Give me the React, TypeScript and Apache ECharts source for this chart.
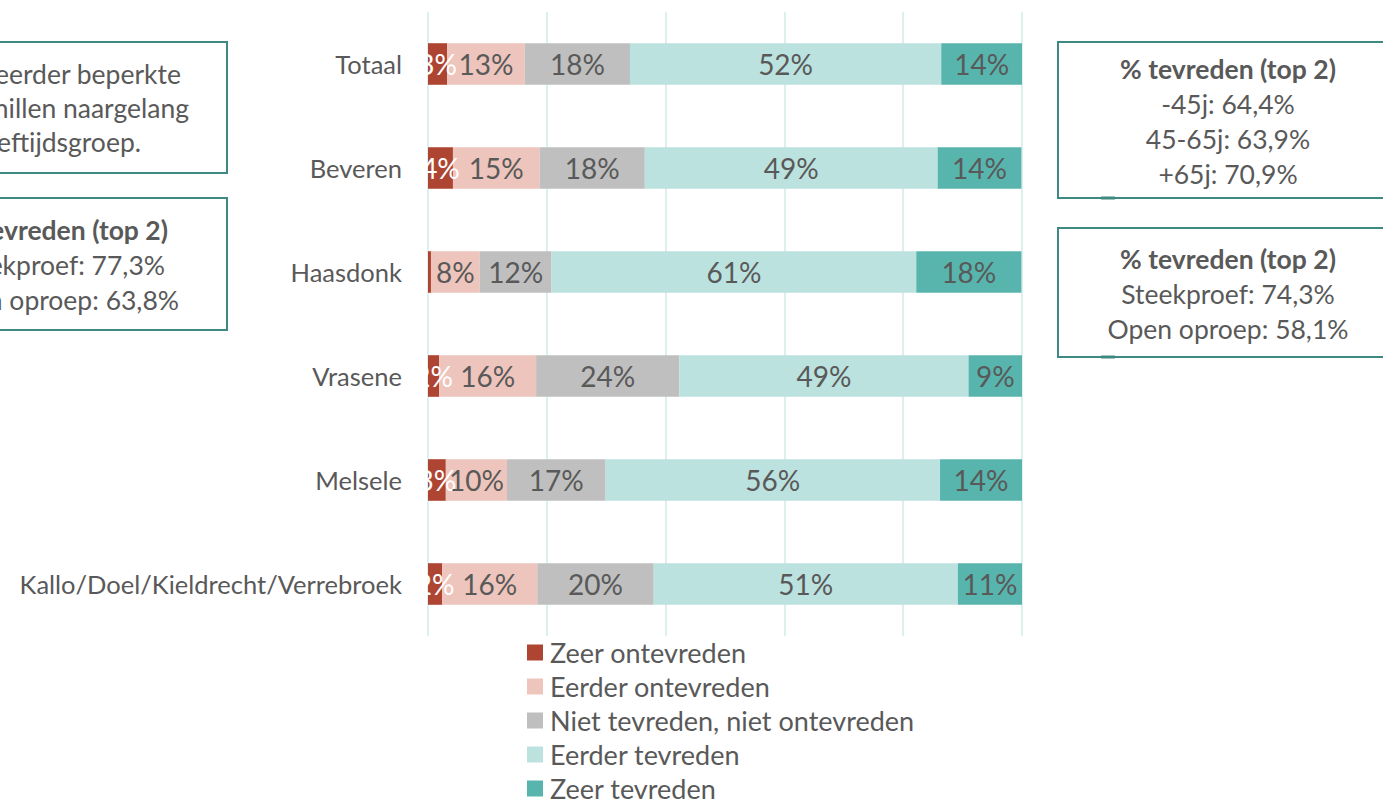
import React, { useEffect, useRef } from "react";
import * as echarts from "echarts";

const categories = ["Totaal", "Beveren", "Haasdonk", "Vrasene", "Melsele", "Kallo/Doel/Kieldrecht/Verrebroek"];
const seriesNames = ["Zeer ontevreden", "Eerder ontevreden", "Niet tevreden, niet ontevreden", "Eerder tevreden", "Zeer tevreden"];
const zeerOntevreden = [3.2, 4.2, 0.5, 1.9, 3.0, 2.4];
const eerderOntevreden = [13.1, 14.6, 8.2, 16.3, 10.3, 16.0];
const nietNiet = [17.7, 17.7, 12.1, 24.1, 16.6, 19.6];
const eerderTevreden = [52.4, 49.3, 61.4, 48.7, 56.3, 51.2];
const zeerTevreden = [13.6, 14.1, 17.7, 9.1, 13.8, 10.8];
const colors = ["#AE4533", "#EEC5BC", "#BFBFBF", "#BCE2DF", "#58B5AE"];
const labelColors = ["#FFFFFF", "#595959", "#595959", "#595959", "#595959"];

const leftBox1 = ["Geen of eerder beperkte", "verschillen naargelang", "leeftijdsgroep."];
const leftBox2Title = "% tevreden (top 2)";
const leftBox2 = ["Steekproef: 77,3%", "Open oproep: 63,8%"];
const rightBox1Title = "% tevreden (top 2)";
const rightBox1 = ["-45j: 64,4%", "45-65j: 63,9%", "+65j: 70,9%"];
const rightBox2Title = "% tevreden (top 2)";
const rightBox2 = ["Steekproef: 74,3%", "Open oproep: 58,1%"];

const FONT = "Lato, 'Open Sans', sans-serif";
const TXT = "#595959";
const BORDER = "#3E8A82";
const BOX_FS = 26.5;

function txt(text: string, x: number, y: number, align: string, bold = false) {
  return {
    type: "text",
    x,
    y,
    style: {
      text,
      fontSize: BOX_FS,
      fontFamily: FONT,
      fontWeight: bold ? "bold" : "normal",
      fill: TXT,
      align,
      verticalAlign: "middle",
      textAlign: align,
      textVerticalAlign: "middle",
    },
  };
}

export default function App() {
  const ref = useRef<HTMLDivElement>(null);
  useEffect(() => {
    const chart = echarts.init(ref.current!, null, { renderer: "svg" });
    const data = [zeerOntevreden, eerderOntevreden, nietNiet, eerderTevreden, zeerTevreden];
    const graphics: any[] = [
      { type: "rect", shape: { x: -120, y: 42, width: 347, height: 131 }, style: { fill: "none", stroke: BORDER, lineWidth: 2 } },
      txt(leftBox1[0], 181, 74, "right"),
      txt(leftBox1[1], 189, 108, "right"),
      txt(leftBox1[2], 141, 142, "right"),
      { type: "rect", shape: { x: -120, y: 198, width: 347, height: 132 }, style: { fill: "none", stroke: BORDER, lineWidth: 2 } },
      txt(leftBox2Title, 168, 230, "right", true),
      txt(leftBox2[0], 165, 265, "right"),
      txt(leftBox2[1], 179, 300, "right"),
      { type: "rect", shape: { x: 1058, y: 42, width: 360, height: 156 }, style: { fill: "none", stroke: BORDER, lineWidth: 2 } },
      txt(rightBox1Title, 1228, 69, "center", true),
      txt(rightBox1[0], 1228, 104, "center"),
      txt(rightBox1[1], 1228, 139, "center"),
      txt(rightBox1[2], 1228, 174, "center"),
      { type: "line", shape: { x1: 1101, y1: 198, x2: 1115, y2: 198 }, style: { stroke: BORDER, lineWidth: 3 } },
      { type: "rect", shape: { x: 1058, y: 228, width: 360, height: 129 }, style: { fill: "none", stroke: BORDER, lineWidth: 2 } },
      txt(rightBox2Title, 1228, 259, "center", true),
      txt(rightBox2[0], 1228, 294, "center"),
      txt(rightBox2[1], 1228, 329, "center"),
      { type: "line", shape: { x1: 1101, y1: 357, x2: 1115, y2: 357 }, style: { stroke: BORDER, lineWidth: 3 } },
    ];
    chart.setOption({
      animation: false,
      textStyle: { fontFamily: FONT },
      grid: { left: 428, right: 361, top: 12, bottom: 164, containLabel: false },
      xAxis: {
        type: "value",
        min: 0,
        max: 100,
        interval: 20,
        axisLabel: { show: false },
        axisLine: { show: false },
        axisTick: { show: false },
        splitLine: { show: true, lineStyle: { color: "#DDF0EE", width: 2 } },
      },
      yAxis: {
        type: "category",
        data: categories,
        inverse: true,
        axisLine: { show: false },
        axisTick: { show: false },
        axisLabel: { color: TXT, fontSize: 25.5, fontFamily: FONT, margin: 26 },
      },
      legend: {
        orient: "vertical",
        left: 522,
        top: 634,
        height: 200,
        itemWidth: 16,
        itemHeight: 16,
        itemGap: 7,
        icon: "rect",
        textStyle: { color: TXT, fontSize: 27, lineHeight: 27, fontFamily: FONT, padding: [0, 0, 0, 2] },
        data: seriesNames,
      },
      series: seriesNames.map((name, i) => ({
        name,
        type: "bar",
        stack: "total",
        barWidth: "40%",
        itemStyle: { color: colors[i] },
        label: {
          show: true,
          position: "inside",
          color: labelColors[i],
          fontSize: 28,
          fontFamily: FONT,
          formatter: (p: any) => (p.value < 1 ? "" : `${Math.round(p.value)}%`),
        },
        data: data[i],
      })),
      graphic: graphics,
    });
    return () => chart.dispose();
  }, []);
  return <div ref={ref} style={{ position: "absolute", left: 0, top: 0, width: 1383, height: 800 }} />;
}
